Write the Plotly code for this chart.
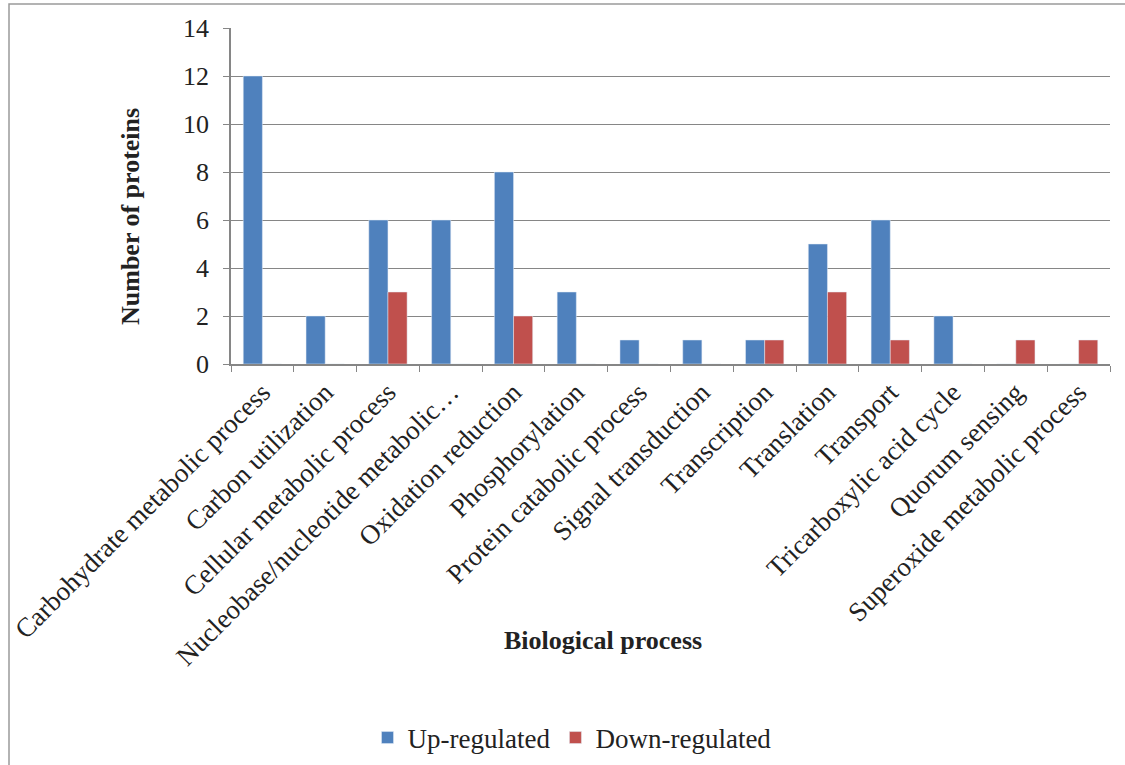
import plotly.graph_objects as go

categories = [
    "Carbohydrate metabolic process", "Carbon utilization", "Cellular metabolic process",
    "Nucleobase/nucleotide metabolic…", "Oxidation reduction", "Phosphorylation",
    "Protein catabolic process", "Signal transduction", "Transcription", "Translation",
    "Transport", "Tricarboxylic acid cycle", "Quorum sensing", "Superoxide metabolic process",
]
up_regulated = [12, 2, 6, 6, 8, 3, 1, 1, 1, 5, 6, 2, 0, 0]
down_regulated = [0, 0, 3, 0, 2, 0, 0, 0, 1, 3, 1, 0, 1, 1]
y_ticks = [0, 2, 4, 6, 8, 10, 12, 14]

FONT = "Liberation Serif, Times New Roman, serif"
GRID = "#868686"

fig = go.Figure()
fig.add_trace(go.Bar(x=categories, y=up_regulated, name="Up-regulated", marker_color="#4F81BD"))
fig.add_trace(go.Bar(x=categories, y=down_regulated, name="Down-regulated", marker_color="#C0504D"))

L, R, T, B = 231, 15, 28, 401
W, H = 1125, 765
pw, ph = W - L - R, H - T - B


def px_x(x):
    return (x - L) / pw


def px_y(y):
    return (H - B - y) / ph


fig.update_layout(
    width=W, height=H,
    margin=dict(l=L, r=R, t=T, b=B, autoexpand=False),
    plot_bgcolor="white", paper_bgcolor="white",
    font=dict(family=FONT, size=26, color="#222222"),
    barmode="group", bargap=0.39, bargroupgap=0,
    showlegend=True,
    legend=dict(orientation="h", xanchor="center", yanchor="middle",
                x=px_x(572), y=px_y(738), font=dict(size=27),
                itemwidth=30, tracegroupgap=0),
    shapes=[dict(type="rect", xref="paper", yref="paper",
                 x0=px_x(9), x1=px_x(1140), y0=px_y(790), y1=px_y(4),
                 line=dict(color="#9a9a9a", width=1.5), layer="below")],
    annotations=[
        dict(text="<b>Number of proteins</b>", xref="paper", yref="paper",
             x=px_x(130), y=px_y(217), textangle=-90, showarrow=False,
             font=dict(size=26), xanchor="center", yanchor="middle"),
        dict(text="<b>Biological process</b>", xref="paper", yref="paper",
             x=px_x(603), y=px_y(640), showarrow=False,
             font=dict(size=26), xanchor="center", yanchor="middle"),
    ],
)
fig.update_xaxes(
    tickangle=-45, tickfont=dict(size=27),
    showline=True, linecolor=GRID, linewidth=1.5,
    ticks="outside", tickson="boundaries", ticklen=6, tickcolor=GRID,
    showgrid=False, automargin=False,
)
fig.update_yaxes(
    range=[0, 14], tickvals=y_ticks, tickfont=dict(size=26),
    showline=True, linecolor=GRID, linewidth=1.5,
    ticks="outside", ticklen=6, tickcolor=GRID, ticklabelstandoff=9,
    showgrid=True, gridcolor=GRID, gridwidth=1, zeroline=False, automargin=False,
)

fig.write_html("out.html", config={"displayModeBar": False},
               post_script="document.body.style.margin='0';")
